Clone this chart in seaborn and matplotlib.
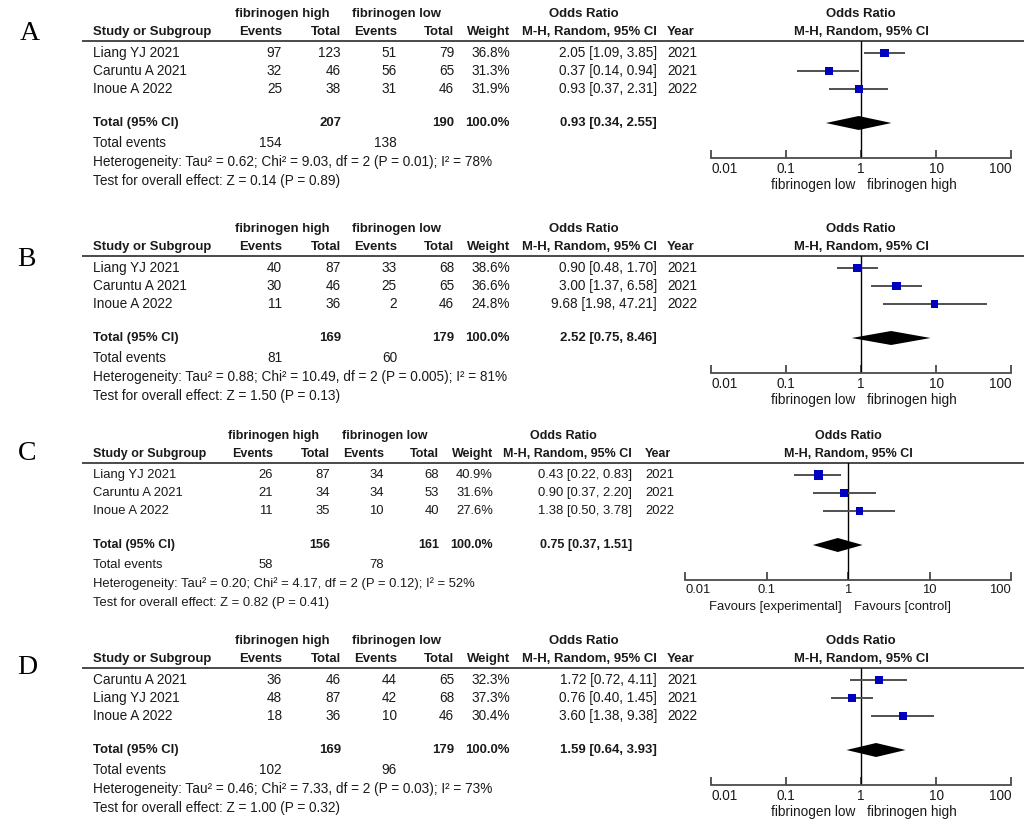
import matplotlib
matplotlib.use("Agg")
import matplotlib.pyplot as plt
import seaborn as sns
from matplotlib.ticker import NullLocator

W, H = 1024, 831
BLUE = "#0000c0"
GRAY = "#4a4a4a"
TXT = "#1a1a1a"

# ---- panel A ----
STUDIES_A = ["Liang YJ 2021", "Caruntu A 2021", "Inoue A 2022"]
EV_HIGH_A = [97, 32, 25]
TOT_HIGH_A = [123, 46, 38]
EV_LOW_A = [51, 56, 31]
TOT_LOW_A = [79, 65, 46]
WEIGHT_A = [36.8, 31.3, 31.9]
OR_A = [2.05, 0.37, 0.93]
LO_A = [1.09, 0.14, 0.37]
HI_A = [3.85, 0.94, 2.31]
YEAR_A = [2021, 2021, 2022]
TOTAL_N_A = [207, 190]
TOTAL_EV_A = [154, 138]
TOTAL_OR_A = [0.93, 0.34, 2.55]
HET_A = "Heterogeneity: Tau² = 0.62; Chi² = 9.03, df = 2 (P = 0.01); I² = 78%"
TEST_A = "Test for overall effect: Z = 0.14 (P = 0.89)"

# ---- panel B ----
STUDIES_B = ["Liang YJ 2021", "Caruntu A 2021", "Inoue A 2022"]
EV_HIGH_B = [40, 30, 11]
TOT_HIGH_B = [87, 46, 36]
EV_LOW_B = [33, 25, 2]
TOT_LOW_B = [68, 65, 46]
WEIGHT_B = [38.6, 36.6, 24.8]
OR_B = [0.90, 3.00, 9.68]
LO_B = [0.48, 1.37, 1.98]
HI_B = [1.70, 6.58, 47.21]
YEAR_B = [2021, 2021, 2022]
TOTAL_N_B = [169, 179]
TOTAL_EV_B = [81, 60]
TOTAL_OR_B = [2.52, 0.75, 8.46]
HET_B = "Heterogeneity: Tau² = 0.88; Chi² = 10.49, df = 2 (P = 0.005); I² = 81%"
TEST_B = "Test for overall effect: Z = 1.50 (P = 0.13)"

# ---- panel C ----
STUDIES_C = ["Liang YJ 2021", "Caruntu A 2021", "Inoue A 2022"]
EV_HIGH_C = [26, 21, 11]
TOT_HIGH_C = [87, 34, 35]
EV_LOW_C = [34, 34, 10]
TOT_LOW_C = [68, 53, 40]
WEIGHT_C = [40.9, 31.6, 27.6]
OR_C = [0.43, 0.90, 1.38]
LO_C = [0.22, 0.37, 0.50]
HI_C = [0.83, 2.20, 3.78]
YEAR_C = [2021, 2021, 2022]
TOTAL_N_C = [156, 161]
TOTAL_EV_C = [58, 78]
TOTAL_OR_C = [0.75, 0.37, 1.51]
HET_C = "Heterogeneity: Tau² = 0.20; Chi² = 4.17, df = 2 (P = 0.12); I² = 52%"
TEST_C = "Test for overall effect: Z = 0.82 (P = 0.41)"

# ---- panel D ----
STUDIES_D = ["Caruntu A 2021", "Liang YJ 2021", "Inoue A 2022"]
EV_HIGH_D = [36, 48, 18]
TOT_HIGH_D = [46, 87, 36]
EV_LOW_D = [44, 42, 10]
TOT_LOW_D = [65, 68, 46]
WEIGHT_D = [32.3, 37.3, 30.4]
OR_D = [1.72, 0.76, 3.60]
LO_D = [0.72, 0.40, 1.38]
HI_D = [4.11, 1.45, 9.38]
YEAR_D = [2021, 2021, 2022]
TOTAL_N_D = [169, 179]
TOTAL_EV_D = [102, 96]
TOTAL_OR_D = [1.59, 0.64, 3.93]
HET_D = "Heterogeneity: Tau² = 0.46; Chi² = 7.33, df = 2 (P = 0.03); I² = 73%"
TEST_D = "Test for overall effect: Z = 1.00 (P = 0.32)"

TOTAL_WEIGHT = "100.0%"
GROUP_HIGH = "fibrinogen high"
GROUP_LOW = "fibrinogen low"
FAVOURS_FIB = ["fibrinogen low", "fibrinogen high"]
FAVOURS_GEN = ["Favours [experimental]", "Favours [control]"]
TICKS = [0.01, 0.1, 1, 10, 100]
TICK_LABELS = ["0.01", "0.1", "1", "10", "100"]

# column layout (pixels) and font size per layout
COLS_WIDE = dict(fs=9.8, study=93, ev_h=282, tot_h=341, ev_l=397, tot_l=454, weight=510,
                 ci=657, year=667, or_hdr=584, hdr_h=282, hdr_l=397, forest=(711, 1011))
COLS_NARROW = dict(fs=9.4, study=93, ev_h=273, tot_h=330, ev_l=384, tot_l=439, weight=493,
                   ci=632, year=645, or_hdr=563, hdr_h=274, hdr_l=385, forest=(685, 1011))


def _panel(letter, letter_xy, rule_y, cols, studies, ev_h, tot_h, ev_l, tot_l, weight,
           or_, lo, hi, year, total_n, total_ev, total_or, het, test, favours):
    return dict(letter=letter, letter_xy=letter_xy, rule_y=rule_y, cols=cols,
                studies=studies, ev_h=ev_h, tot_h=tot_h, ev_l=ev_l, tot_l=tot_l,
                weight=weight, or_=or_, lo=lo, hi=hi, year=year, total_n=total_n,
                total_ev=total_ev, total_or=total_or, het=het, test=test, favours=favours)


PANELS = [
    _panel("A", (30, 34), 41, COLS_WIDE, STUDIES_A, EV_HIGH_A, TOT_HIGH_A, EV_LOW_A, TOT_LOW_A,
           WEIGHT_A, OR_A, LO_A, HI_A, YEAR_A, TOTAL_N_A, TOTAL_EV_A, TOTAL_OR_A, HET_A, TEST_A,
           FAVOURS_FIB),
    _panel("B", (26, 260), 256, COLS_WIDE, STUDIES_B, EV_HIGH_B, TOT_HIGH_B, EV_LOW_B, TOT_LOW_B,
           WEIGHT_B, OR_B, LO_B, HI_B, YEAR_B, TOTAL_N_B, TOTAL_EV_B, TOTAL_OR_B, HET_B, TEST_B,
           FAVOURS_FIB),
    _panel("C", (27, 454), 463, COLS_NARROW, STUDIES_C, EV_HIGH_C, TOT_HIGH_C, EV_LOW_C, TOT_LOW_C,
           WEIGHT_C, OR_C, LO_C, HI_C, YEAR_C, TOTAL_N_C, TOTAL_EV_C, TOTAL_OR_C, HET_C, TEST_C,
           FAVOURS_GEN),
    _panel("D", (27, 668), 668, COLS_WIDE, STUDIES_D, EV_HIGH_D, TOT_HIGH_D, EV_LOW_D, TOT_LOW_D,
           WEIGHT_D, OR_D, LO_D, HI_D, YEAR_D, TOTAL_N_D, TOTAL_EV_D, TOTAL_OR_D, HET_D, TEST_D,
           FAVOURS_FIB),
]

ROW_PITCH = 18
ROW0 = 12
TOTAL_OFF = 82
EVENTS_OFF = 102
HET_OFF = 121
TEST_OFF = 140
AXIS_OFF = 117
FAV_OFF = 144


def _txt(ax, fs, x, y, s, ha="left", bold=False):
    ax.text(x, y, s, ha=ha, va="center", fontsize=fs * (0.96 if bold else 1.0), color=TXT,
            fontweight="bold" if bold else "normal")


def _ci(v, l, h):
    return f"{v:.2f} [{l:.2f}, {h:.2f}]"


def draw_table(ov, p):
    c = p["cols"]
    fs = c["fs"]
    r = p["rule_y"]
    ov.text(*p["letter_xy"], p["letter"], ha="center", va="center", fontsize=20,
            family="Liberation Serif", color="black")
    ov.hlines(r, 82, W, color=GRAY, lw=1.4)

    h1, h2 = r - 27, r - 9
    _txt(ov, fs, c["hdr_h"], h1, GROUP_HIGH, ha="center", bold=True)
    _txt(ov, fs, c["hdr_l"], h1, GROUP_LOW, ha="center", bold=True)
    _txt(ov, fs, c["or_hdr"], h1, "Odds Ratio", ha="center", bold=True)
    fx = sum(c["forest"]) / 2
    _txt(ov, fs, fx, h1, "Odds Ratio", ha="center", bold=True)
    _txt(ov, fs, c["study"], h2, "Study or Subgroup", bold=True)
    _txt(ov, fs, c["ev_h"], h2, "Events", ha="right", bold=True)
    _txt(ov, fs, c["tot_h"], h2, "Total", ha="right", bold=True)
    _txt(ov, fs, c["ev_l"], h2, "Events", ha="right", bold=True)
    _txt(ov, fs, c["tot_l"], h2, "Total", ha="right", bold=True)
    _txt(ov, fs, c["weight"], h2, "Weight", ha="right", bold=True)
    _txt(ov, fs, c["ci"], h2, "M-H, Random, 95% CI", ha="right", bold=True)
    _txt(ov, fs, c["year"], h2, "Year", bold=True)
    _txt(ov, fs, fx, h2, "M-H, Random, 95% CI", ha="center", bold=True)

    for i, name in enumerate(p["studies"]):
        y = r + ROW0 + ROW_PITCH * i
        _txt(ov, fs, c["study"], y, name)
        _txt(ov, fs, c["ev_h"], y, str(p["ev_h"][i]), ha="right")
        _txt(ov, fs, c["tot_h"], y, str(p["tot_h"][i]), ha="right")
        _txt(ov, fs, c["ev_l"], y, str(p["ev_l"][i]), ha="right")
        _txt(ov, fs, c["tot_l"], y, str(p["tot_l"][i]), ha="right")
        _txt(ov, fs, c["weight"], y, f"{p['weight'][i]:.1f}%", ha="right")
        _txt(ov, fs, c["ci"], y, _ci(p["or_"][i], p["lo"][i], p["hi"][i]), ha="right")
        _txt(ov, fs, c["year"], y, str(p["year"][i]))

    y = r + TOTAL_OFF
    _txt(ov, fs, c["study"], y, "Total (95% CI)", bold=True)
    _txt(ov, fs, c["tot_h"], y, str(p["total_n"][0]), ha="right", bold=True)
    _txt(ov, fs, c["tot_l"], y, str(p["total_n"][1]), ha="right", bold=True)
    _txt(ov, fs, c["weight"], y, TOTAL_WEIGHT, ha="right", bold=True)
    _txt(ov, fs, c["ci"], y, _ci(*p["total_or"]), ha="right", bold=True)

    y = r + EVENTS_OFF
    _txt(ov, fs, c["study"], y, "Total events")
    _txt(ov, fs, c["ev_h"], y, str(p["total_ev"][0]), ha="right")
    _txt(ov, fs, c["ev_l"], y, str(p["total_ev"][1]), ha="right")
    _txt(ov, fs, c["study"], r + HET_OFF, p["het"])
    _txt(ov, fs, c["study"], r + TEST_OFF, p["test"])

    _txt(ov, fs, fx - 6, r + FAV_OFF, p["favours"][0], ha="right")
    _txt(ov, fs, fx + 6, r + FAV_OFF, p["favours"][1], ha="left")


def draw_forest(fig, p):
    x0, x1 = p["cols"]["forest"]
    top = p["rule_y"]
    bot = top + AXIS_OFF
    ax = fig.add_axes([x0 / W, 1 - bot / H, (x1 - x0) / W, (bot - top) / H])
    ax.patch.set_visible(False)
    ax.set_xscale("log")

    ypos = [ROW0 + ROW_PITCH * i for i in range(len(p["or_"]))]
    ax.hlines(ypos, p["lo"], p["hi"], color="#505050", lw=1.4, zorder=2)
    sns.scatterplot(x=p["or_"], y=ypos, size=p["weight"], sizes=(0, 105), size_norm=(0, 100),
                    marker="s", color=BLUE, edgecolor=BLUE, linewidth=0, legend=False,
                    ax=ax, zorder=3)
    est, lo, hi = p["total_or"]
    ax.fill([lo, est, hi, est], [TOTAL_OFF, TOTAL_OFF - 7, TOTAL_OFF, TOTAL_OFF + 7],
            color="black", lw=0, zorder=3)
    ax.axvline(1, color="black", lw=1.0, zorder=1)

    ax.set_xlim(TICKS[0], TICKS[-1])
    ax.set_ylim(AXIS_OFF, 0)
    ax.set_xticks(TICKS)
    ax.set_xticklabels(TICK_LABELS)
    ax.xaxis.set_minor_locator(NullLocator())
    labels = ax.get_xticklabels()
    labels[0].set_horizontalalignment("left")
    labels[-1].set_horizontalalignment("right")
    ax.tick_params(axis="x", which="major", bottom=True, direction="in", length=6, width=1.3,
                   color=GRAY, pad=3, labelsize=p["cols"]["fs"], labelcolor=TXT)
    ax.set_yticks([])
    ax.set_xlabel("")
    ax.set_ylabel("")
    for side in ["top", "left", "right"]:
        ax.spines[side].set_visible(False)
    ax.spines["bottom"].set_color(GRAY)
    ax.spines["bottom"].set_linewidth(1.3)


def main():
    sns.set_theme(style="white")
    plt.rcParams["font.family"] = ["Liberation Sans", "DejaVu Sans"]
    fig = plt.figure(figsize=(W / 100, H / 100), dpi=100)
    fig.patch.set_facecolor("white")
    ov = fig.add_axes([0, 0, 1, 1])
    ov.set_xlim(0, W)
    ov.set_ylim(H, 0)
    ov.axis("off")
    for p in PANELS:
        draw_table(ov, p)
    for p in PANELS:
        draw_forest(fig, p)
    fig.savefig("out.png", dpi=100)


if __name__ == "__main__":
    main()
